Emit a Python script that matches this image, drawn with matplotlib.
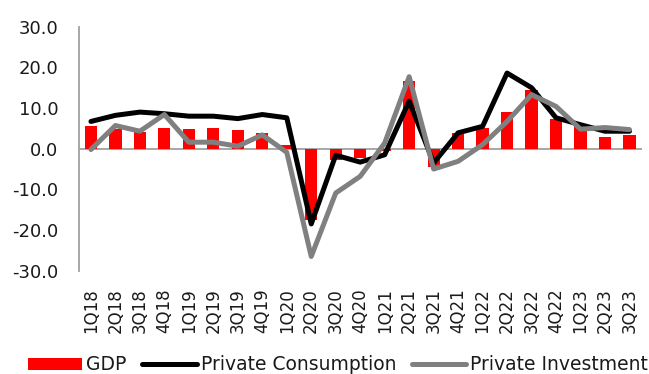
import matplotlib
matplotlib.use("Agg")
import matplotlib.pyplot as plt
import numpy as np

quarters = ["1Q18", "2Q18", "3Q18", "4Q18", "1Q19", "2Q19", "3Q19", "4Q19",
            "1Q20", "2Q20", "3Q20", "4Q20", "1Q21", "2Q21", "3Q21", "4Q21",
            "1Q22", "2Q22", "3Q22", "4Q22", "1Q23", "2Q23", "3Q23"]
gdp = [5.5, 4.9, 4.1, 5.1, 4.9, 5.2, 4.7, 3.9, 0.8, -17.5, -2.7, -2.2,
       -0.5, 16.6, -4.4, 3.9, 5.1, 9.0, 14.5, 7.4, 5.5, 3.0, 3.4]
private_consumption = [6.7, 8.2, 9.0, 8.6, 8.0, 8.0, 7.4, 8.4, 7.6, -18.5,
                       -1.6, -3.3, -1.5, 11.7, -3.5, 3.9, 5.5, 18.6, 15.0,
                       7.6, 5.9, 4.3, 4.3]
private_investment = [-0.2, 5.7, 4.3, 8.4, 1.6, 1.6, 0.6, 3.4, -0.9, -26.5,
                      -10.9, -6.8, 1.4, 17.7, -5.0, -3.1, 1.0, 6.7, 13.3,
                      10.4, 4.8, 5.2, 4.7]
yticks = [-30, -20, -10, 0, 10, 20, 30]

fig = plt.figure(figsize=(6.49, 3.74), dpi=100)
ax = fig.add_axes([78.7 / 649, 1 - 270.7 / 374, 563 / 649, 244 / 374])

x = np.arange(len(quarters))
b = ax.bar(x, gdp, width=0.5, color="#ff0000", label="GDP", zorder=2)
l1, = ax.plot(x, private_consumption, color="black", lw=3.6,
              solid_capstyle="round", solid_joinstyle="round",
              label="Private Consumption", zorder=3)
l2, = ax.plot(x, private_investment, color="#808080", lw=3.6,
              solid_capstyle="round", solid_joinstyle="round",
              label="Private Investment", zorder=4)

ax.axhline(0, color="#a0a0a0", lw=1.3, zorder=1)
ax.set_xlim(-0.5, len(quarters) - 0.5)
ax.set_ylim(-30, 30)
ax.set_yticks(yticks)
ax.set_yticklabels([f"{v:.1f}" for v in yticks])
ax.set_xticks(x)
ax.set_xticklabels(quarters, rotation=90)

for s in ["top", "right", "bottom"]:
    ax.spines[s].set_visible(False)
ax.spines["left"].set_color("#a0a0a0")
ax.spines["left"].set_linewidth(1.3)

ax.tick_params(axis="y", length=0, pad=14.5, labelsize=13, labelcolor="#1a1a1a")
ax.tick_params(axis="x", length=0, pad=12.5, labelsize=12, labelcolor="#1a1a1a")

fig.legend(handles=[b, l1, l2],
           labels=["GDP", "Private Consumption", "Private Investment"],
           loc="center left", bbox_to_anchor=(28 / 649, 1 - 365 / 374),
           ncol=3, frameon=False, fontsize=13.5, borderpad=0, borderaxespad=0,
           handlelength=2.9, handleheight=0.65, handletextpad=0.2,
           columnspacing=0.85, labelcolor="#1a1a1a")

fig.savefig("out.png", dpi=100)
